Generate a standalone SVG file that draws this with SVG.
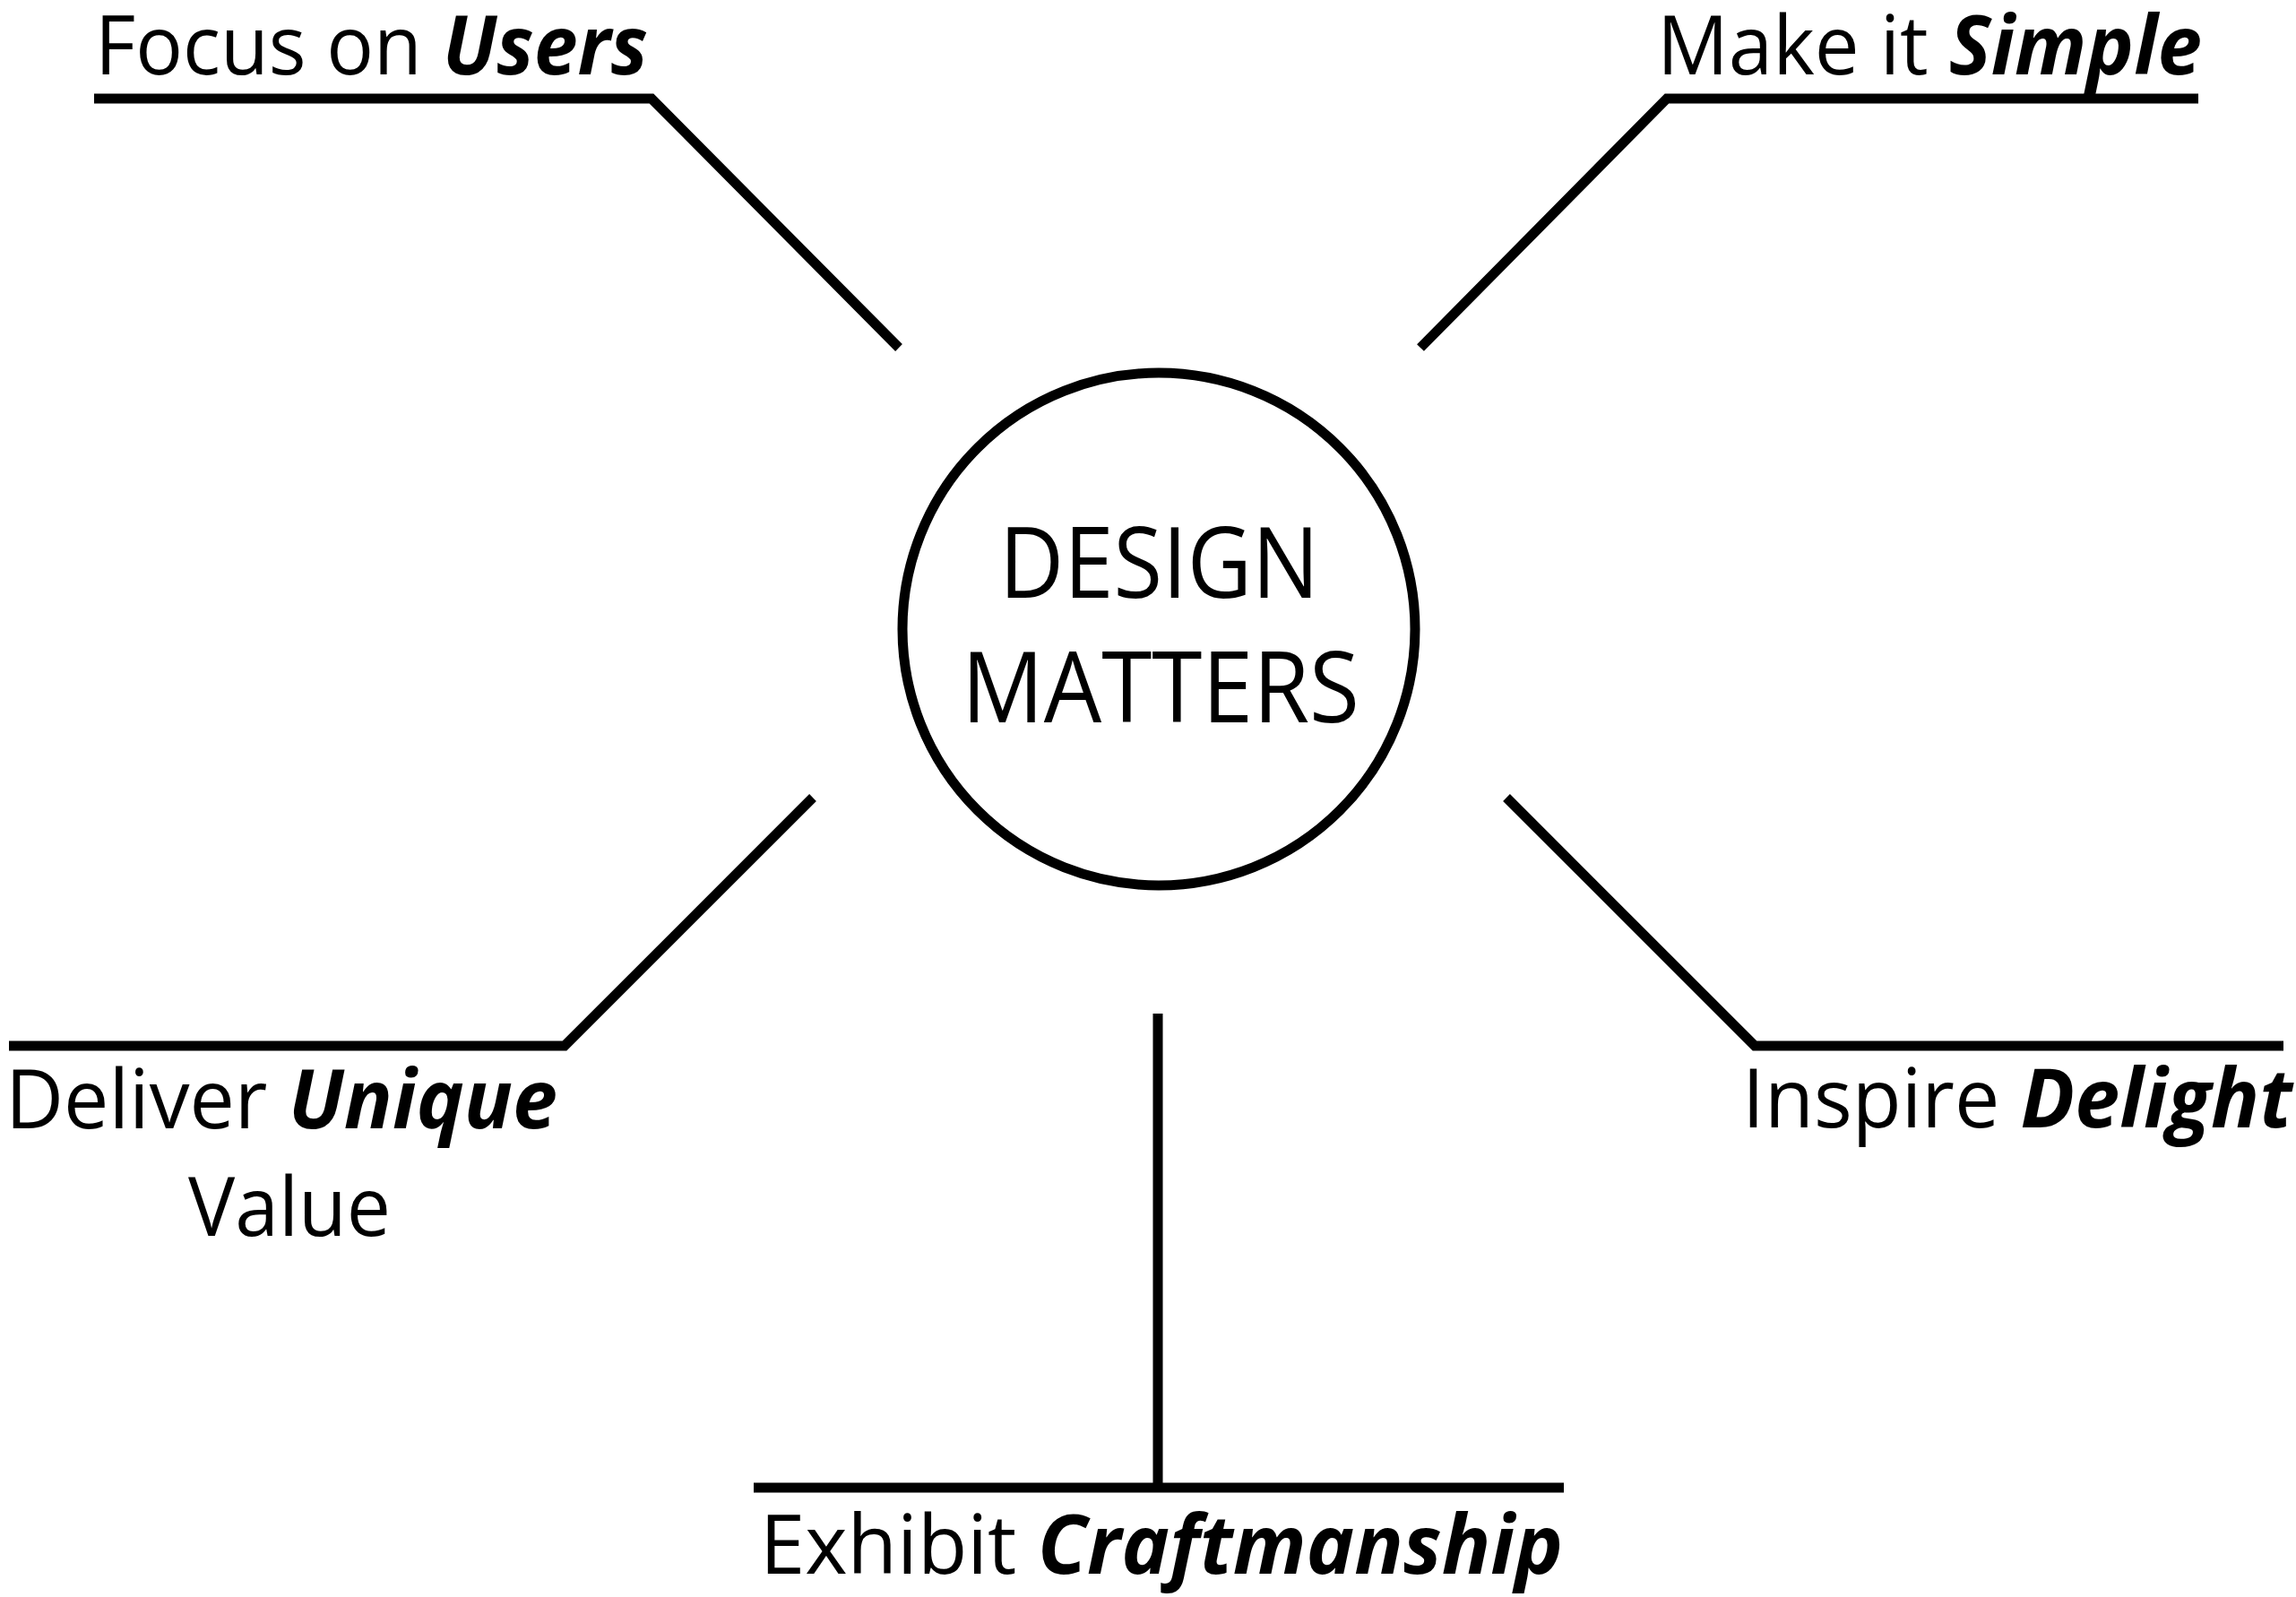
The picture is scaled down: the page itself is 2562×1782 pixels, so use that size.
<svg xmlns="http://www.w3.org/2000/svg" width="2562" height="1782" viewBox="0 0 2562 1782">
<style>
.t{font-family:"Open Sans","Noto Sans","Liberation Sans",sans-serif;font-size:92px;fill:#000}
.c{font-size:110px}
.b{font-weight:700;font-style:italic}
.ln{fill:none;stroke:#000;stroke-width:11;stroke-linejoin:miter;stroke-linecap:butt}
</style>
<rect width="2562" height="1782" fill="#fff"/>
<g id="connectors">
<polyline class="ln" points="105,110 727,110 1003,388"/>
<polyline class="ln" points="2453,110 1860,110 1585,388"/>
<polyline class="ln" points="10,1167 630,1167 907,890"/>
<polyline class="ln" points="2548,1167 1958,1167 1681,890"/>
<line class="ln" x1="1292" y1="1131" x2="1292" y2="1660"/>
<line class="ln" x1="841" y1="1660" x2="1745" y2="1660"/>
</g>
<g id="center">
<circle cx="1293" cy="702" r="286" fill="none" stroke="#000" stroke-width="11"/>
<text class="t c" x="1115" y="667" textLength="357" lengthAdjust="spacingAndGlyphs">DESIGN</text>
<text class="t c" x="1073" y="806" textLength="444" lengthAdjust="spacingAndGlyphs">MATTERS</text>
</g>
<g id="users">
<text class="t" x="106" y="83" textLength="617" lengthAdjust="spacingAndGlyphs">Focus on <tspan class="b">Users</tspan></text>
</g>
<g id="simple">
<text class="t" x="1849" y="83" textLength="608" lengthAdjust="spacingAndGlyphs">Make it <tspan class="b">Simple</tspan></text>
</g>
<g id="unique">
<text class="t" x="6" y="1259" textLength="616" lengthAdjust="spacingAndGlyphs">Deliver <tspan class="b">Unique</tspan></text>
<text class="t" x="210" y="1379" textLength="226" lengthAdjust="spacingAndGlyphs">Value</text>
</g>
<g id="delight">
<text class="t" x="1944" y="1258" textLength="614" lengthAdjust="spacingAndGlyphs">Inspire <tspan class="b">Delight</tspan></text>
</g>
<g id="craftmanship">
<text class="t" x="848" y="1756" textLength="896" lengthAdjust="spacingAndGlyphs">Exhibit <tspan class="b">Craftmanship</tspan></text>
</g>
</svg>
